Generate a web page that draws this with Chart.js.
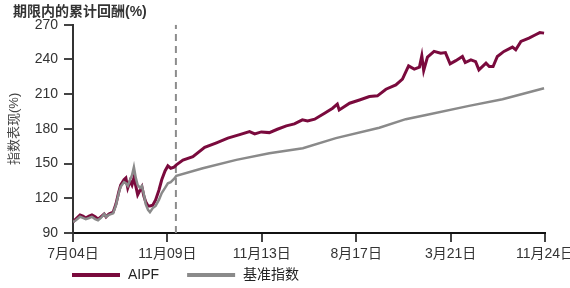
<!DOCTYPE html>
<html>
<head>
<meta charset="utf-8">
<script src="https://cdn.jsdelivr.net/npm/chart.js@4"></script>
<style>
  html, body { margin: 0; padding: 0; background: #fff; }
  #wrap { width: 570px; height: 288px; }
</style>
</head>
<body>
<div id="wrap"><canvas id="chart"></canvas></div>
<script>
// Axis labels (x positions 0..100, one label every 20)
const xTickLabels = ['7月04日', '11月09日', '11月13日', '8月17日', '3月21日', '11月24日'];
const yTicks = [90, 120, 150, 180, 210, 240, 270];

// AIPF
const aipfDays = [0, 0.6, 1.5, 2.1, 2.7, 3.4, 4.0, 4.7, 5.3, 5.9, 6.6, 7.0, 7.6, 8.5, 9.1, 9.7, 10.1, 10.8, 11.2, 11.6,
  12.1, 12.5, 12.9, 13.3, 13.7, 14.2, 14.6, 15.0, 15.4, 15.9, 16.3, 16.9, 17.5, 18.2, 18.8, 19.5, 20.1, 20.7, 21.4,
  21.9, 23.3, 25.4, 27.9, 30.4, 32.8, 35.3, 37.4, 38.5, 39.9, 41.6, 43.3, 45.2, 46.9, 48.6, 49.7, 51.2, 53.3, 55.0,
  56.0, 56.4, 58.6, 60.7, 62.8, 64.5, 66.3, 68.4, 69.8, 71.1, 72.3, 73.4, 73.9, 74.3, 75.1, 76.5, 77.9, 78.9, 79.9,
  81.1, 82.5, 83.1, 84.3, 85.3, 86.0, 87.5, 88.2, 89.0, 89.9, 91.3, 93.1, 93.8, 94.9, 96.6, 98.0, 98.9, 99.8];
const aipfValues = [99.5, 102, 105.6, 104.7, 103, 104.7, 105.6, 104, 102, 104, 106.4, 104, 106.4, 108, 115, 125.5, 131.5, 136, 137.6, 129,
  135, 131.5, 137.6, 130.7, 123, 127, 130, 122, 117, 113.4, 113.4, 114, 118.6, 127, 136, 143.6, 148, 146, 147,
  148.9, 153, 156, 164, 168, 172, 175, 177.7, 175.7, 177.4, 176.8, 179.7, 182.6, 184.3, 187.8, 186.9, 188.4, 193.6, 197.9,
  201.4, 196.4, 202.2, 205, 208, 208.6, 214.3, 218, 223, 234.5, 231.7, 233.4, 243.2, 230.5, 242, 247, 245.5, 246, 236.2,
  239, 242.6, 237.4, 239.7, 238.2, 231, 236.8, 233.9, 233.9, 242.6, 247, 250.7, 248.4, 255.6, 258.5, 261.4, 263.3, 262.8];

// benchmark index
const benchDays = [0, 0.6, 1.5, 2.1, 2.7, 3.4, 4.0, 4.7, 5.3, 5.9, 6.6, 7.0, 7.6, 8.5, 9.1, 9.7, 10.1, 10.8, 11.2, 11.6,
  12.1, 12.5, 12.9, 13.3, 13.7, 14.2, 14.6, 15.0, 15.4, 15.9, 16.3, 16.9, 17.5, 18.2, 18.8, 19.5, 20.1, 20.7, 21.4,
  21.9, 27.5, 34.6, 41.6, 48.7, 55.7, 64.9, 70.5, 74.8, 83.9, 91.0, 99.8];
const benchValues = [99.5, 101, 104, 103, 102, 103, 104, 102, 101, 103, 106.4, 104, 105.6, 107, 114, 124.6, 130, 134, 133, 130.7,
  136, 140, 147, 137.6, 131.5, 129, 130.7, 123.7, 115, 110, 108, 111.6, 113.4, 118.6, 124.6, 129, 133, 134, 136.7,
  139.5, 146, 153.2, 159, 163.3, 172, 181, 188.4, 192.1, 199.9, 205.7, 215.2];

// Dashed marker
const markerDay = 21.8;

const FONT = "'Liberation Sans', Arial, 'Noto Sans CJK SC', sans-serif";
const toPoints = (xs, ys) => xs.map((x, i) => ({ x: x, y: ys[i] }));

// legend drawn under the axis, starting below the y axis
const bottomLegend = {
  id: 'bottomLegend',
  afterLayout(chart) {
    // nudge the title a bit to the right
    chart.titleBlock.left += 8;
    chart.titleBlock.right += 8;
  },
  afterDraw(chart) {
    const ctx = chart.ctx;
    const y = 275;
    let x = 72;
    ctx.save();
    ctx.font = '14px ' + FONT;
    ctx.textBaseline = 'middle';
    chart.data.datasets.slice(0, 2).forEach(ds => {
      ctx.fillStyle = ds.borderColor;
      ctx.fillRect(x, y - 2, 48, 4);
      ctx.fillStyle = '#222';
      ctx.fillText(ds.label, x + 56, y);
      x += 56 + ctx.measureText(ds.label).width + 28;
    });
    ctx.restore();
  }
};

new Chart(document.getElementById('chart'), {
  type: 'line',
  data: {
    datasets: [
      {
        label: 'AIPF',
        data: toPoints(aipfDays, aipfValues),
        borderColor: '#7a0a3d',
        borderWidth: 3,
        pointRadius: 0,
        tension: 0,
        order: 2
      },
      {
        label: '基准指数',
        data: toPoints(benchDays, benchValues),
        borderColor: '#8a8a8a',
        borderWidth: 2.5,
        pointRadius: 0,
        tension: 0,
        order: 1
      },
      {
        label: 'marker',
        data: [{ x: markerDay, y: 90 }, { x: markerDay, y: 270 }],
        borderColor: '#8c8c8c',
        borderWidth: 2,
        borderDash: [7, 5],
        pointRadius: 0,
        order: 3
      }
    ]
  },
  options: {
    responsive: true,
    maintainAspectRatio: false,
    animation: false,
    layout: { padding: { left: 5, right: 25, top: 4, bottom: 24 } },
    plugins: {
      title: {
        display: true,
        text: '期限内的累计回酬(%)',
        align: 'start',
        color: '#333',
        font: { family: FONT, size: 14, weight: 'bold' },
        padding: { top: 0, bottom: 4 }
      },
      legend: { display: false },
      tooltip: { enabled: false }
    },
    scales: {
      x: {
        type: 'linear',
        min: 0,
        max: 100,
        afterFit: s => { s.height = 31; s.paddingRight = 0; },
        ticks: {
          stepSize: 20,
          color: '#333',
          font: { family: FONT, size: 14 },
          padding: 4,
          maxRotation: 0,
          callback: v => xTickLabels[Math.round(v / 20)]
        },
        grid: { drawOnChartArea: false, drawTicks: true, tickLength: 9, color: '#444', lineWidth: 2 },
        border: { color: '#111', width: 2 }
      },
      y: {
        min: 90,
        max: 270,
        afterFit: s => { s.width = 68; },
        afterBuildTicks: s => { s.ticks = yTicks.map(v => ({ value: v })); },
        title: {
          display: true,
          text: '指数表现(%)',
          color: '#444',
          font: { family: FONT, size: 13 },
          padding: { top: 2, bottom: 0 }
        },
        ticks: {
          color: '#333',
          font: { family: FONT, size: 14 },
          padding: 6
        },
        grid: { drawOnChartArea: false, drawTicks: true, tickLength: 9, color: '#444', lineWidth: 2 },
        border: { color: '#333', width: 2 }
      }
    }
  },
  plugins: [bottomLegend]
});
</script>
</body>
</html>
